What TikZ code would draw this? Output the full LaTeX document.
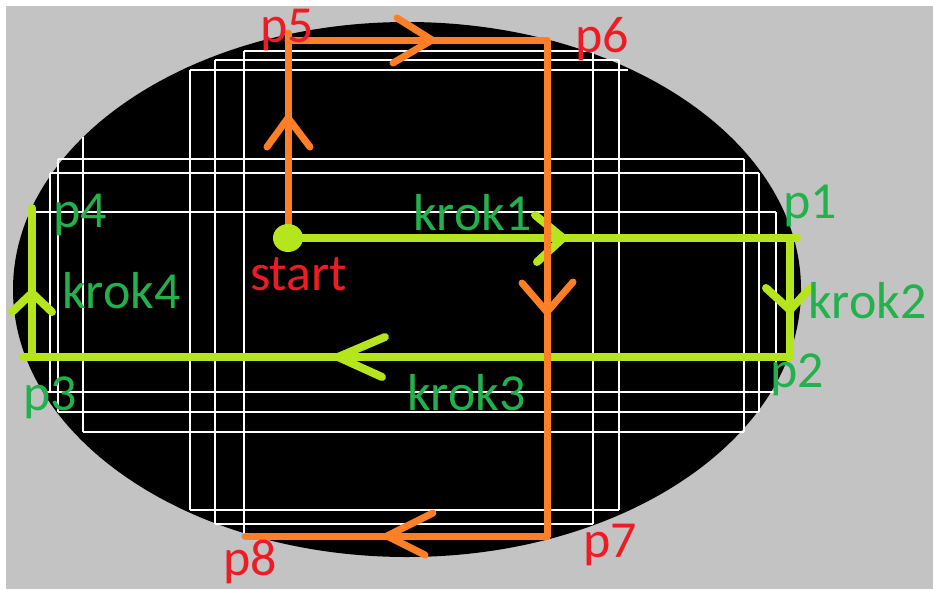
\documentclass[tikz,border=0pt]{standalone}
\usepackage{fontspec}
\setmainfont{Carlito}
\definecolor{bggray}{HTML}{C3C3C3}
\definecolor{limeline}{HTML}{B5E61D}
\definecolor{orangeline}{HTML}{FF7F27}
\definecolor{labelgreen}{HTML}{22B14C}
\definecolor{labelred}{HTML}{ED1C24}
\begin{document}
\begin{tikzpicture}[x=1pt,y=-1pt,
  gridline/.style={draw=white, line width=1.3pt},
  limepath/.style={draw=limeline, line width=8pt, line cap=round, line join=round},
  orangepath/.style={draw=orangeline, line width=7pt, line cap=round, line join=round},
  lbl/.style={inner sep=0pt, anchor=base west, font=\fontsize{52}{60}\selectfont},
  greenlbl/.style={lbl, text=labelgreen},
  redlbl/.style={lbl, text=labelred}]
\useasboundingbox (0,0) rectangle (933,589);
\fill[white] (0,0) rectangle (933,589);
\fill[bggray] (6,6) rectangle (933,589);
% the black field
\fill[black] (407,289.5) ellipse [x radius=394pt, y radius=267.5pt];
% white search grid
\foreach \x/\ya/\yb in {50/173/392, 58/159/412, 83/137/432, 190/70/510, 215/60/524,
    244/51/535, 593/51/524, 619/60/510, 744/159/432, 759/173/412, 776/212/392}
  \draw[gridline] (\x,\ya) -- (\x,\yb);
\foreach \y/\xa/\xb in {51/244/593, 60/215/619, 70/190/628, 159/58/744, 173/50/759,
    212/34/776, 392/45/776, 412/58/759, 432/83/744, 510/190/619, 524/215/593}
  \draw[gridline] (\xa,\y) -- (\xb,\y);
% path points
\coordinate (start) at (288,238);
\coordinate (p1) at (790,238);
\coordinate (p1e) at (797,238);
\coordinate (p2) at (790,357);
\coordinate (p3) at (32,357);
\coordinate (p3e) at (23,357);
\coordinate (p4) at (32,208);
\coordinate (p5) at (288,40);
\coordinate (p5t) at (288,33);
\coordinate (p6) at (547,40);
\coordinate (p7) at (547,536);
\coordinate (p8) at (245,536);
% lime route: start -> p1 -> p2 -> p3 -> p4
\draw[limepath] (start) -- (p1e);
\draw[limepath] (p1) -- (p2);
\draw[limepath] (p2) -- (p3e);
\draw[limepath] (p3) -- (p4);
\draw[limepath] (535,215) -- (563,238) -- (537,262);
\draw[limepath] (766,288) -- (790,310) -- (810,288);
\draw[limepath] (385,337) -- (338,357) -- (382,377);
\draw[limepath] (12,312) -- (32,293) -- (52,312);
% orange route: start -> p5 -> p6 -> p7 -> p8
\draw[orangepath] (start) -- (p5t);
\draw[orangepath] (p5) -- (p6) -- (p7) -- (p8);
\draw[orangepath] (267,147) -- (288,118) -- (310,147);
\draw[orangepath] (397,18) -- (432,40) -- (393,63);
\draw[orangepath] (522,283) -- (547,312) -- (573,282);
\draw[orangepath] (433,513) -- (387,536) -- (425,555);
% start marker
\fill[limeline] (start) ellipse [x radius=15pt, y radius=14pt];
% labels
\node[redlbl] (l5) at (260,42) {p5};
\node[redlbl] (l6) at (575,52) {p6};
\node[redlbl] (l7) at (583,557) {p7};
\node[redlbl] (l8) at (223,575) {p8};
\node[redlbl] (lstart) at (250,290) {start};
\node[greenlbl] (l1) at (783,218) {p1};
\node[greenlbl] (l2) at (770,387) {p2};
\node[greenlbl] (l3) at (23,410) {p3};
\node[greenlbl] (l4) at (53,227) {p4};
\node[greenlbl] (k1) at (413,230) {krok1};
\node[greenlbl] (k2) at (808,318) {krok2};
\node[greenlbl] (k3) at (407,410) {krok3};
\node[greenlbl] (k4) at (62,308) {krok4};
\end{tikzpicture}
\end{document}
